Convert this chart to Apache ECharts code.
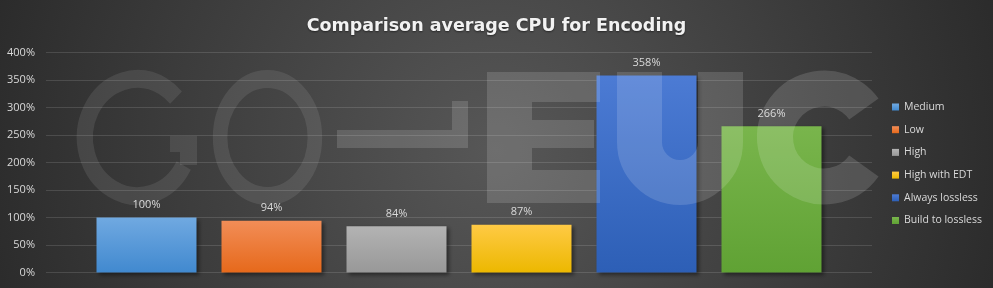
<!DOCTYPE html>
<html>
<head>
<meta charset="utf-8">
<script src="https://cdn.jsdelivr.net/npm/echarts@6/dist/echarts.min.js"></script>
<style>html,body{margin:0;padding:0;background:#333;}#c{width:993px;height:288px;}</style>
</head>
<body>
<div id="c"></div>
<script>
// ---- data ----
const titleText = 'Comparison average CPU for Encoding';
const categories = [''];
const seriesNames = ['Medium', 'Low', 'High', 'High with EDT', 'Always lossless', 'Build to lossless'];
const seriesValues = [100, 94, 84, 87, 358, 266];
const yTicks = { min: 0, max: 400, interval: 50 };

// ---- styles ----
const barColors = [
  ['#70a9e1', '#4189cf'],
  ['#f28d57', '#e6691b'],
  ['#b3b3b3', '#989898'],
  ['#ffca45', '#ecb800'],
  ['#4c7bd4', '#2d5fb6'],
  ['#79b54c', '#60a234']
];
function grad(c) {
  return new echarts.graphic.LinearGradient(0, 0, 0, 1, [
    { offset: 0, color: c[0] }, { offset: 1, color: c[1] }
  ]);
}
const wm1 = 'rgba(255,255,255,0.09)';
const wm2 = 'rgba(255,255,255,0.14)';

const chart = echarts.init(document.getElementById('c'), null, { renderer: 'canvas' });

const series = seriesNames.map((name, i) => ({
  name: name,
  type: 'bar',
  data: [seriesValues[i]],
  barWidth: 100,
  barGap: '25%',
  itemStyle: {
    color: grad(barColors[i]),
    shadowColor: 'rgba(0,0,0,0.45)',
    shadowBlur: 4,
    shadowOffsetX: 2,
    shadowOffsetY: 2
  },
  label: {
    show: true,
    position: 'top',
    distance: 7,
    formatter: '{c}%',
    color: '#d9d9d9',
    fontSize: 11,
    fontFamily: 'Open Sans'
  },
  emphasis: { disabled: true }
}));

const option = {
  animation: false,
  backgroundColor: {
    type: 'radial', x: 496, y: 150, r: 560, global: true,
    colorStops: [
      { offset: 0, color: '#575757' },
      { offset: 1, color: '#282828' }
    ]
  },
  title: {
    text: titleText,
    left: 'center',
    top: 12,
    textStyle: {
      color: '#f2f2f2',
      fontFamily: 'DejaVu Sans',
      fontWeight: 'bold',
      fontSize: 17.5,
      textShadowColor: 'rgba(0,0,0,0.5)',
      textShadowBlur: 2,
      textShadowOffsetY: 1
    }
  },
  legend: {
    orient: 'vertical',
    left: 887,
    top: 95,
    icon: 'rect',
    itemWidth: 7,
    itemHeight: 7,
    itemGap: 8.7,
    textStyle: { color: '#d9d9d9', fontSize: 10.5, lineHeight: 14, fontFamily: 'Open Sans' },
    data: seriesNames
  },
  grid: { left: 46, right: 121, top: 52.5, bottom: 15.5, containLabel: false },
  xAxis: {
    type: 'category',
    data: categories,
    axisLine: { show: false },
    axisTick: { show: false },
    axisLabel: { show: false },
    splitLine: { show: false }
  },
  yAxis: {
    type: 'value',
    min: yTicks.min,
    max: yTicks.max,
    interval: yTicks.interval,
    axisLine: { show: false },
    axisTick: { show: false },
    axisLabel: { formatter: '{value}%', color: '#d9d9d9', fontSize: 11, fontFamily: 'Open Sans', margin: 11 },
    splitLine: { lineStyle: { color: 'rgba(255,255,255,0.13)', width: 1 } }
  },
  graphic: [
    // G
    { type: 'arc', x: 137.5, y: 137.5, scaleX: 0.9, silent: true, z: 100,
      shape: { cx: 0, cy: 0, r: 58.5, startAngle: 0.5, endAngle: 2 * Math.PI - 0.75, clockwise: true },
      style: { stroke: wm1, lineWidth: 18, fill: null } },
    { type: 'rect', silent: true, z: 100, shape: { x: 170, y: 136, width: 27, height: 16 }, style: { fill: wm1 } },
    { type: 'rect', silent: true, z: 100, shape: { x: 180, y: 152, width: 17, height: 13 }, style: { fill: wm1 } },
    // O
    { type: 'arc', x: 267.5, y: 137.5, scaleX: 0.81, silent: true, z: 100,
      shape: { cx: 0, cy: 0, r: 58.5, startAngle: 0, endAngle: 2 * Math.PI, clockwise: true },
      style: { stroke: wm1, lineWidth: 18, fill: null } },
    // hook
    { type: 'rect', silent: true, z: 100, shape: { x: 337, y: 130, width: 131, height: 18 }, style: { fill: wm2 } },
    { type: 'rect', silent: true, z: 100, shape: { x: 452, y: 101, width: 16, height: 29 }, style: { fill: wm2 } },
    // E
    { type: 'rect', silent: true, z: 100, shape: { x: 487, y: 72, width: 45, height: 131 }, style: { fill: wm2 } },
    { type: 'rect', silent: true, z: 100, shape: { x: 532, y: 72, width: 68, height: 30 }, style: { fill: wm2 } },
    { type: 'rect', silent: true, z: 100, shape: { x: 532, y: 120, width: 62, height: 28 }, style: { fill: wm2 } },
    { type: 'rect', silent: true, z: 100, shape: { x: 532, y: 170, width: 68, height: 33 }, style: { fill: wm2 } },
    // U
    { type: 'rect', silent: true, z: 100, shape: { x: 617, y: 72, width: 45, height: 70 }, style: { fill: wm2 } },
    { type: 'rect', silent: true, z: 100, shape: { x: 698, y: 72, width: 45, height: 70 }, style: { fill: wm2 } },
    { type: 'arc', silent: true, z: 100,
      shape: { cx: 680, cy: 142, r: 40.5, startAngle: 0, endAngle: Math.PI, clockwise: true },
      style: { stroke: wm2, lineWidth: 45, fill: null, lineCap: 'butt' } },
    // C
    { type: 'arc', silent: true, z: 100,
      shape: { cx: 824, cy: 137.5, r: 49, startAngle: 0.62, endAngle: 2 * Math.PI - 0.62, clockwise: true },
      style: { stroke: wm2, lineWidth: 36, fill: null, lineCap: 'butt' } }
  ],
  series: series
};
chart.setOption(option);
</script>
</body>
</html>
